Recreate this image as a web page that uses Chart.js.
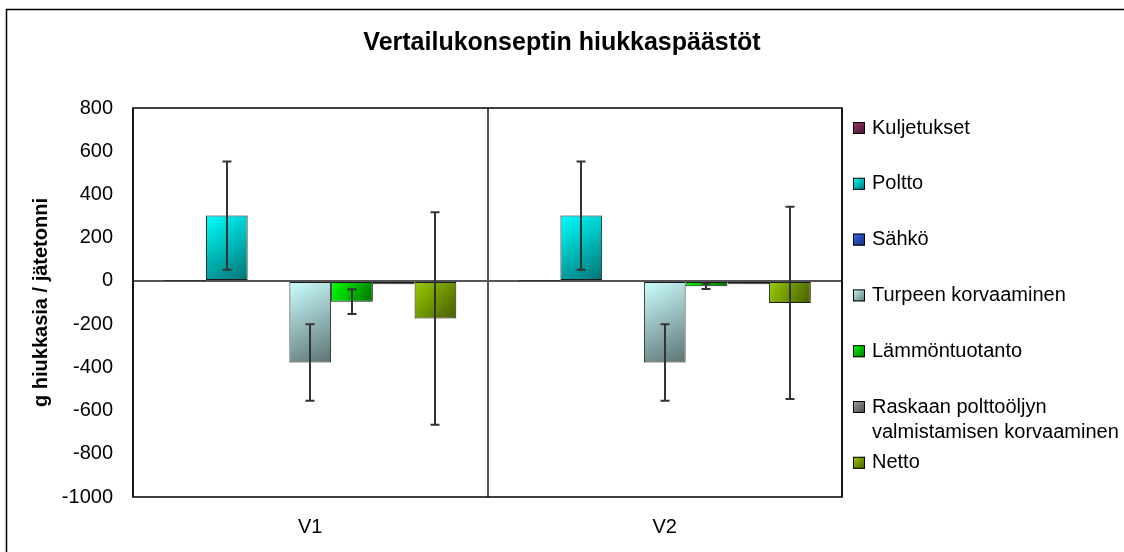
<!DOCTYPE html>
<html>
<head>
    <meta charset="utf-8">
    <title>Vertailukonseptin hiukkaspäästöt</title>
    <script src="https://cdn.jsdelivr.net/npm/chart.js"></script>
    <style>
        html, body {
            margin: 0;
            padding: 0;
            background: #fff;
            overflow: hidden;
        }
        canvas {
            display: block;
        }
    </style>
</head>
<body>
    <canvas id="myChart" width="1124" height="552"></canvas>

    <script>
        // kategoriat ja sarjat
        const categories = ['V1', 'V2'];
        const seriesNames = [
            'Kuljetukset',
            'Poltto',
            'Sähkö',
            'Turpeen korvaaminen',
            'Lämmöntuotanto',
            'Raskaan polttoöljyn valmistamisen korvaaminen',
            'Netto'
        ];
        const seriesColors = ['#993366', '#00FFFF', '#3366FF', '#CCFFFF', '#00FF00', '#A0A0A0', '#99CC00'];

        // arvot (g hiukkasia / jätetonni)
        const kuljetukset = [1, 1];
        const poltto = [302, 302];
        const sahko = [4, 4];
        const turpeenKorvaaminen = [-378, -378];
        const lammontuotanto = [-96, -25];
        const raskaanPolttooljyn = [-16, -16];
        const netto = [-174, -102];

        // virhepalkit (+/-)
        const polttoErr = [250, 250];
        const turpeenErr = [177, 177];
        const lammontuotantoErr = [57, 13];
        const nettoErr = [492, 445];

        const yTicks = { min: -1000, max: 800, step: 200 };

        const seriesValues = [kuljetukset, poltto, sahko, turpeenKorvaaminen, lammontuotanto, raskaanPolttooljyn, netto];
        const seriesErrors = [null, polttoErr, null, turpeenErr, lammontuotantoErr, null, nettoErr];

        Chart.defaults.font.family = "Arial, 'Liberation Sans', sans-serif";
        Chart.defaults.color = '#000';

        // tummennettu sävy liukuväriä varten
        function shade(hex, f) {
            const n = parseInt(hex.slice(1), 16);
            const r = Math.round(((n >> 16) & 255) * f);
            const g = Math.round(((n >> 8) & 255) * f);
            const b = Math.round((n & 255) * f);
            return `rgb(${r}, ${g}, ${b})`;
        }

        function diagGradient(c, color, left, top, right, bottom) {
            const g = c.createLinearGradient(left, top, right, bottom);
            g.addColorStop(0, color);
            g.addColorStop(1, shade(color, 0.45));
            return g;
        }

        // ulkokehys ja piirtoalueen kehys
        const framePlugin = {
            id: 'frames',
            beforeDraw(chart) {
                const c = chart.ctx;
                c.save();
                c.fillStyle = '#fff';
                c.fillRect(0, 0, chart.width, chart.height);
                c.strokeStyle = '#000';
                c.lineWidth = 1.5;
                c.strokeRect(6.5, 9.5, chart.width + 20, chart.height + 20);
                c.restore();
            },
            beforeDatasetsDraw(chart) {
                const c = chart.ctx;
                const a = chart.chartArea;
                c.save();
                c.strokeStyle = '#000';
                c.lineWidth = 1.5;
                c.strokeRect(a.left, a.top, a.right - a.left, a.bottom - a.top);
                c.restore();
            }
        };

        // pylväiden liukuväri (vasen ylä -> oikea ala)
        const barShadePlugin = {
            id: 'barShade',
            beforeDatasetsDraw(chart) {
                const c = chart.ctx;
                chart.data.datasets.forEach((ds, i) => {
                    const meta = chart.getDatasetMeta(i);
                    meta.data.forEach(bar => {
                        const p = bar.getProps(['x', 'y', 'base', 'width'], true);
                        const top = Math.min(p.y, p.base);
                        const bottom = Math.max(p.y, p.base);
                        const g = diagGradient(c, seriesColors[i], p.x - p.width / 2, top, p.x + p.width / 2, bottom);
                        bar.options = Object.assign({}, bar.options, { backgroundColor: g });
                    });
                });
            }
        };

        // virhepalkit
        const errorBarPlugin = {
            id: 'errorBars',
            afterDatasetsDraw(chart) {
                const c = chart.ctx;
                const yScale = chart.scales.y;
                c.save();
                c.strokeStyle = '#333';
                c.lineWidth = 2;
                seriesErrors.forEach((errs, i) => {
                    if (!errs) return;
                    const meta = chart.getDatasetMeta(i);
                    meta.data.forEach((bar, j) => {
                        const v = seriesValues[i][j];
                        const e = errs[j];
                        const x = Math.round(bar.x);
                        const yTop = yScale.getPixelForValue(v + e);
                        const yBot = yScale.getPixelForValue(v - e);
                        c.beginPath();
                        c.moveTo(x, yTop);
                        c.lineTo(x, yBot);
                        c.moveTo(x - 4.5, yTop);
                        c.lineTo(x + 4.5, yTop);
                        c.moveTo(x - 4.5, yBot);
                        c.lineTo(x + 4.5, yBot);
                        c.stroke();
                    });
                });
                c.restore();
            }
        };

        // selite oikealla
        const sideLegendPlugin = {
            id: 'sideLegend',
            afterDraw(chart) {
                const c = chart.ctx;
                const a = chart.chartArea;
                const boxX = a.right + 11;
                const textX = a.right + 30;
                const maxW = chart.width - textX - 2;
                c.save();
                c.font = "20px Arial, 'Liberation Sans', sans-serif";
                c.textBaseline = 'middle';
                c.textAlign = 'left';
                chart.data.datasets.forEach((ds, i) => {
                    const y = a.top + 20 + i * 55.8;
                    const bg = diagGradient(c, seriesColors[i], boxX, y - 6, boxX + 12, y + 6);
                    c.fillStyle = bg;
                    c.fillRect(boxX, y - 6, 12, 12);
                    c.strokeStyle = '#000';
                    c.lineWidth = 1;
                    c.strokeRect(boxX + 0.5, y - 5.5, 11, 11);

                    // rivitys
                    const words = ds.label.split(' ');
                    const lines = [];
                    let line = '';
                    words.forEach(w => {
                        const test = line ? line + ' ' + w : w;
                        if (line && c.measureText(test).width > maxW) {
                            lines.push(line);
                            line = w;
                        } else {
                            line = test;
                        }
                    });
                    lines.push(line);

                    c.fillStyle = '#000';
                    lines.forEach((l, k) => c.fillText(l, textX, y + k * 25));
                });
                c.restore();
            }
        };

        const datasets = seriesNames.map((name, i) => ({
            label: name,
            data: seriesValues[i],
            backgroundColor: seriesColors[i],
            borderColor: '#1a1a1a',
            borderWidth: 1,
            borderSkipped: false,
            categoryPercentage: 0.824,
            barPercentage: 1
        }));

        const myChart = new Chart(document.getElementById('myChart'), {
            type: 'bar',
            data: {
                labels: categories,
                datasets: datasets
            },
            options: {
                responsive: false,
                animation: false,
                devicePixelRatio: 1,
                events: [],
                layout: {
                    padding: 0
                },
                plugins: {
                    legend: { display: false },
                    tooltip: { enabled: false },
                    title: {
                        display: true,
                        text: 'Vertailukonseptin hiukkaspäästöt',
                        color: '#000',
                        font: { size: 25, weight: 'bold' },
                        padding: { top: 28, bottom: 50 }
                    }
                },
                scales: {
                    x: {
                        grid: {
                            offset: true,
                            color: '#555',
                            lineWidth: 2,
                            drawTicks: false
                        },
                        border: { display: false },
                        ticks: {
                            color: '#000',
                            font: { size: 20 },
                            padding: 18
                        },
                        afterFit(scale) {
                            scale.height = 55;
                        }
                    },
                    y: {
                        min: yTicks.min,
                        max: yTicks.max,
                        ticks: {
                            stepSize: yTicks.step,
                            color: '#000',
                            font: { size: 20 },
                            padding: 20,
                            callback: v => String(v)
                        },
                        grid: {
                            drawTicks: false,
                            lineWidth: 2,
                            color: c => (c.tick && c.tick.value === 0 ? '#555' : 'rgba(0,0,0,0)')
                        },
                        border: { display: false },
                        title: {
                            display: true,
                            text: 'g hiukkasia / jätetonni',
                            color: '#000',
                            font: { size: 20, weight: 'bold' },
                            padding: { top: 29, bottom: 0 }
                        },
                        afterFit(scale) {
                            scale.width = 133;
                        }
                    },
                    // tyhjä tila selitteelle
                    legendSpace: {
                        type: 'linear',
                        position: 'right',
                        grid: { display: false },
                        border: { display: false },
                        ticks: { display: false },
                        afterFit(scale) {
                            scale.width = 282;
                        }
                    }
                }
            },
            plugins: [framePlugin, barShadePlugin, errorBarPlugin, sideLegendPlugin]
        });
    </script>
</body>
</html>
